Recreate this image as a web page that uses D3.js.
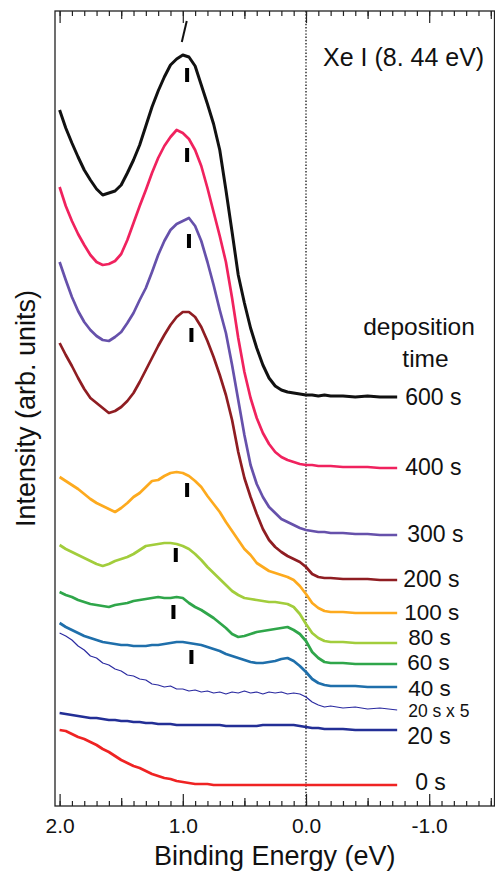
<!DOCTYPE html>
<html><head><meta charset="utf-8">
<script src="https://cdn.jsdelivr.net/npm/d3@7"></script>
<style>
body{margin:0;background:#fff}
svg{display:block}
text{font-family:"Liberation Sans",Arial,Helvetica,sans-serif;fill:#111}
</style>
</head><body>
<svg id="chart" width="495" height="872"></svg>
<script>
// ---- data (binding energy in eV, intensity in arb. units) ----
const energy = [2.00,1.95,1.90,1.85,1.80,1.75,1.70,1.65,1.60,1.55,1.50,1.45,1.40,1.35,1.30,1.25,1.20,1.15,1.10,1.05,1.00,0.95,0.90,0.85,0.80,0.75,0.70,0.65,0.60,0.55,0.50,0.45,0.40,0.35,0.30,0.25,0.20,0.15,0.10,0.05,0.00,-0.05,-0.10,-0.15,-0.20,-0.30,-0.40,-0.50,-0.60,-0.74];

const s600 = [696,678,663,649,636,626,617,611,613,615,621,633,646,661,680,699,715,729,741,747,751,749,740,721,702,682,656,616,574,531,503,478,458,441,428,420,416,414,413,412,411,411,410,411,410,410,409,410,409,409];
const s400 = [619,600,585,572,561,551,544,541,542,545,552,566,583,600,616,633,648,660,669,676,673,667,656,640,618,594,570,544,508,468,434,408,388,373,362,354,349,346,344,342,341,341,340,340,340,339,339,339,338,338];
const s300 = [544,526,509,495,484,476,470,466,465,469,474,483,493,506,518,534,551,565,576,582,585,588,580,565,544,521,496,473,441,406,371,341,322,309,299,293,287,284,281,278,276,275,274,274,273,273,272,272,271,271];
const s200 = [463,451,440,428,417,408,403,398,393,395,399,405,413,424,436,448,460,471,481,489,494,494,489,479,465,449,431,411,386,354,328,309,292,277,266,259,254,250,247,244,239,232,229,228,228,227,227,227,226,226];
const s100 = [329,325,321,317,312,307,303,300,297,294,298,303,309,313,319,325,326,330,333,334,333,330,325,319,310,302,294,284,275,266,257,251,243,239,235,233,231,229,226,220,212,203,198,195,194,194,193,193,193,193];
const s80  = [261,257,254,251,248,245,242,240,242,245,247,249,252,256,260,261,262,263,263,262,260,257,252,246,239,233,227,221,215,211,208,207,206,205,204,204,203,202,199,192,182,173,168,165,164,164,163,163,163,163];
const s60  = [214,211,209,206,204,202,201,200,199,201,202,203,205,206,207,208,209,208,208,209,208,203,199,196,192,188,183,178,172,169,170,172,174,175,176,177,178,179,176,172,165,154,148,144,143,143,142,142,142,142];
const s40  = [183,179,176,173,170,168,166,164,163,162,161,161,160,160,160,161,161,162,163,164,164,163,162,161,159,157,155,152,150,148,146,144,143,143,144,145,147,148,145,140,134,127,123,121,120,120,120,119,119,119];
const s20x5 = [173,170,166,160,156,150,148,143,141,137,135,131,130,127,126,122,121,119,120,117,117,115,116,114,115,113,114,112,114,113,115,113,114,112,114,113,114,112,113,112,109,104,101,99,100,98,99,97,98,96];
const s20  = [93,92,91,90,89,88,88,87,86,86,85,85,84,84,83,83,82,82,82,81,81,81,81,81,81,81,81,80,80,80,80,80,80,81,81,81,81,81,81,80,79,78,78,77,77,77,76,76,76,76];
const s0   = [76,75,72,69,67,64,61,57,54,50,46,43,40,38,35,32,30,28,27,25,24,23,22,22,22,21,21,21,21,21,21,21,21,21,21,21,21,21,21,21,21,21,21,21,21,21,21,21,21,21];

const seriesNames = ["600 s","400 s","300 s","200 s","100 s","80 s","60 s","40 s","20 s x 5","20 s","0 s"];
const seriesValues = [s600,s400,s300,s200,s100,s80,s60,s40,s20x5,s20,s0];

// peak position markers (binding energy, intensity at marker centre)
const markerEnergy    = [0.965,0.965,0.95,0.93,0.965,1.057,1.076,0.93];
const markerIntensity = [731,651,565,471,316,251,194,149];

const xMajorTicks = [2.0,1.0,0.0,-1.0];
const xTickLabels = ["2.0","1.0","0.0","-1.0"];

// ---- styles ----
const colors = ["#111111","#f0225e","#6651ab","#8f1d22","#fdaa1e","#a2cd3c","#2fa64a","#1f6fab","#2a2aa0","#232f96","#ef2323"];
const widths = [3,2.7,2.7,2.7,2.7,2.7,2.7,2.7,1.2,2.5,2.7];
const labelDx = [-2,-2,0,-4,-3,1,0,1,1,0,8];
const labelDy = [8,7,7,7,7,2,6,9,7,14,5];
const labelSize = [23,23,23,23,22.5,22.5,22.5,22.5,17.5,23,23];

const svg = d3.select("#chart");
const frame = {left:55, right:494.5, top:11, bottom:806};

const x = d3.scaleLinear().domain([2.0,-1.0]).range([59.6,429.2]);
const y = d3.scaleLinear().domain([0,795]).range([frame.bottom,frame.top]);

// dotted line at E_F
svg.append("line")
  .attr("x1",x(0)).attr("x2",x(0)).attr("y1",frame.top).attr("y2",frame.bottom)
  .attr("stroke","#222").attr("stroke-width",1.4).attr("stroke-dasharray","1.4 1.8");

// curves
const line = d3.line().x((d,i)=>x(energy[i])).y(d=>y(d));
svg.append("g").selectAll("path").data(seriesValues).join("path")
  .attr("d",line).attr("fill","none")
  .attr("stroke",(d,i)=>colors[i]).attr("stroke-width",(d,i)=>widths[i])
  .attr("stroke-linejoin","round");

// markers
svg.append("g").selectAll("rect").data(markerEnergy).join("rect")
  .attr("x",d=>x(d)-2).attr("width",4)
  .attr("y",(d,i)=>y(markerIntensity[i])-7).attr("height",14)
  .attr("fill","#000");
// slanted mark above the top peak
svg.append("line")
  .attr("x1",x(0.968)).attr("y1",y(785)).attr("x2",x(1.008)).attr("y2",y(764))
  .attr("stroke","#111").attr("stroke-width",2);

// frame
svg.append("rect").attr("x",frame.left).attr("y",frame.top)
  .attr("width",frame.right-frame.left).attr("height",frame.bottom-frame.top)
  .attr("fill","none").attr("stroke","#222").attr("stroke-width",1.3);

// ticks
const minorTicks = d3.range(-15,21).map(d=>d/10);
const midTicks = [1.5,0.5,-0.5,-1.5];
function tickRow(axisFn, ypos, vals, len){
  const g = svg.append("g").attr("transform",`translate(0,${ypos})`)
    .call(axisFn(x).tickValues(vals).tickSize(-len).tickFormat(""));
  g.select(".domain").remove();
  g.selectAll("line").attr("stroke","#222").attr("stroke-width",1.2);
}
tickRow(d3.axisBottom, frame.bottom, minorTicks, 5);
tickRow(d3.axisBottom, frame.bottom, midTicks, 8);
tickRow(d3.axisTop, frame.top, minorTicks, 5);
tickRow(d3.axisTop, frame.top, midTicks, 8);
tickRow(d3.axisTop, frame.top, xMajorTicks, 12);

const ax = svg.append("g").attr("transform",`translate(0,${frame.bottom})`)
  .call(d3.axisBottom(x).tickValues(xMajorTicks).tickSize(-12).tickPadding(12)
    .tickFormat((d,i)=>xTickLabels[i]));
ax.select(".domain").remove();
ax.selectAll("line").attr("stroke","#222").attr("stroke-width",1.2);
ax.selectAll("text").attr("font-size",21).attr("fill","#111")
  .attr("font-family",'"Liberation Sans",Arial,sans-serif');

// axis titles
svg.append("text").attr("x",(frame.left+frame.right)/2).attr("y",865)
  .attr("text-anchor","middle").attr("font-size",27).text("Binding Energy (eV)");
svg.append("text").attr("transform",`translate(35,${(frame.top+frame.bottom)/2}) rotate(-90)`)
  .attr("text-anchor","middle").attr("font-size",27).text("Intensity (arb. units)");

// annotations
svg.append("text").attr("x",323).attr("y",66).attr("font-size",25).text("Xe I (8. 44 eV)");
svg.append("text").attr("x",419).attr("y",335).attr("text-anchor","middle").attr("font-size",24.5).text("deposition");
svg.append("text").attr("x",425.5).attr("y",367).attr("text-anchor","middle").attr("font-size",24.5).text("time");

// series labels at curve ends
const xEnd = x(energy[energy.length-1]) + 10;
svg.append("g").selectAll("text").data(seriesNames).join("text")
  .attr("x",(d,i)=>xEnd+labelDx[i])
  .attr("y",(d,i)=>y(seriesValues[i][seriesValues[i].length-1])+labelDy[i])
  .attr("font-size",(d,i)=>labelSize[i])
  .text(d=>d);
</script>
</body></html>
